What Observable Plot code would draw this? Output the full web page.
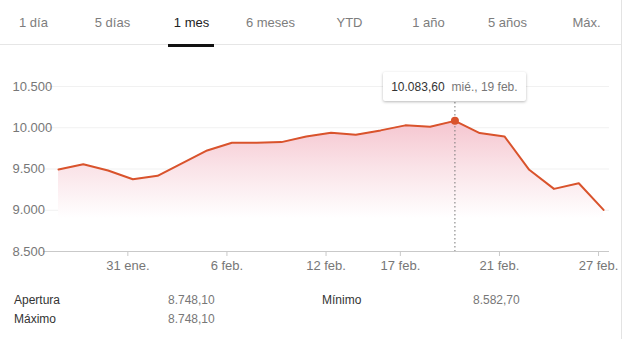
<!DOCTYPE html>
<html>
<head>
<meta charset="utf-8">
<script src="https://cdn.jsdelivr.net/npm/d3@7"></script>
<script src="https://cdn.jsdelivr.net/npm/@observablehq/plot@0.6"></script>
<style>
  html, body { margin: 0; padding: 0; background: #fff; }
  body { font-family: Arial, "Liberation Sans", sans-serif; }
  #card { position: relative; width: 626px; height: 339px; overflow: hidden; }
  #rborder { position: absolute; top: 0; left: 621px; width: 1px; height: 339px; background: #e3e3e3; }
  #tabs { position: absolute; top: 14px; left: -6px; display: grid; grid-template-columns: repeat(8, 79px); }
  #tabs div { text-align: center; font-size: 13px; line-height: 18px; color: #7d7d7d; }
  #tabs div.sel { color: #222; }
  #sep { position: absolute; top: 44px; left: 0; width: 621px; height: 1px; background: #e6e6e6; }
  #under { position: absolute; top: 44px; height: 3px; background: #111; }
  #chart { position: absolute; top: 50px; left: 0; width: 626px; height: 230px; }
  #chart svg { max-width: none !important; }
  #tip { position: absolute; top: 72px; height: 29px; background: #fff; box-shadow: 0 1px 3px rgba(0,0,0,0.28); border-radius: 2px;
         display: flex; align-items: center; justify-content: center; font-size: 12px; white-space: nowrap; }
  #tip .v { color: #333; margin-right: 7px; }
  #tip .d { color: #777; }
  #stats { position: absolute; top: 291px; left: 14px; display: grid; grid-template-columns: 154px 154px 151px auto; font-size: 12px; line-height: 19px; }
  #stats .l { color: #333; }
  #stats .n { color: #777; }
</style>
</head>
<body>
<div id="card">
  <div id="tabs"></div>
  <div id="sep"></div>
  <div id="under"></div>
  <div id="chart"></div>
  <div id="stats"></div>
  <div id="rborder"></div>
</div>
<script>
// ---- data ----
const tabs = ["1 día", "5 días", "1 mes", "6 meses", "YTD", "1 año", "5 años", "Máx."];
const selectedTab = "1 mes";
const days = ["2020-01-28","2020-01-29","2020-01-30","2020-01-31","2020-02-03","2020-02-04","2020-02-05","2020-02-06",
              "2020-02-07","2020-02-10","2020-02-11","2020-02-12","2020-02-13","2020-02-14","2020-02-17","2020-02-18",
              "2020-02-19","2020-02-20","2020-02-21","2020-02-24","2020-02-25","2020-02-26","2020-02-27"];
const closes = [9494, 9558, 9482, 9376, 9417, 9571, 9725, 9819, 9819, 9826, 9895, 9940, 9916, 9968, 10029, 10013,
                10083.6, 9935, 9895, 9490, 9259, 9327, 9004];
const tickDays = ["2020-01-31","2020-02-06","2020-02-12","2020-02-17","2020-02-21","2020-02-27"];
const tickLabels = ["31 ene.","6 feb.","12 feb.","17 feb.","21 feb.","27 feb."];
const yTicks = [8500, 9000, 9500, 10000, 10500];
const tipDay = "2020-02-19";
const tipDateLabel = "mié., 19 feb.";
const statLabels = ["Apertura", "Mínimo", "Máximo"];
const statValues = [8748.10, 8582.70, 8748.10];

// ---- helpers ----
const loc = d3.formatLocale({decimal: ",", thousands: ".", grouping: [3], currency: ["", "€"]});
const fInt = loc.format(",.0f");
const fDec = loc.format(",.2f");

const data = days.map((d, i) => ({i, day: d, v: closes[i]}));
const tickIdx = tickDays.map(d => days.indexOf(d));
const labelOf = new Map(tickIdx.map((k, j) => [k, tickLabels[j]]));
const peak = data[days.indexOf(tipDay)];
const LINE = "#d9532c";

// ---- tabs ----
const tabsEl = document.getElementById("tabs");
tabs.forEach(t => {
  const d = document.createElement("div");
  d.textContent = t;
  if (t === selectedTab) d.className = "sel";
  tabsEl.appendChild(d);
});

// ---- chart ----
const plot = Plot.plot({
  width: 626, height: 230,
  marginLeft: 43, marginRight: 17, marginTop: 36, marginBottom: 29,
  style: {fontFamily: "Arial, 'Liberation Sans', sans-serif", fontSize: "13px", background: "transparent"},
  x: {domain: [-0.606, 22.24]},
  y: {domain: [8500, 10500], axis: null},
  marks: [
    Plot.ruleY(yTicks.filter(d => d > 8500), {stroke: "#f1f1f1", insetLeft: 2}),
    Plot.areaY(data, {x: "i", y1: 8500, y2: "v", fill: "url(#fadeGrad)"}),
    Plot.ruleX([peak], {x: "i", stroke: "#777", strokeDasharray: "1.5,2.5"}),
    Plot.ruleY([8500], {stroke: "#c9c9c9", strokeWidth: 1.2}),
    Plot.axisX({ticks: tickIdx, tickFormat: d => labelOf.get(d), tickSize: 5, tickPadding: 4,
                stroke: "#c9c9c9", fill: "#777", fontSize: 13, dx: -5, label: null}),
    Plot.text(yTicks, {y: d => d, frameAnchor: "left", textAnchor: "start", dx: -31,
                       text: d => fInt(d), fill: "#777", fontSize: 13}),
    Plot.lineY(data, {x: "i", y: "v", stroke: LINE, strokeWidth: 2}),
    Plot.dot([peak], {x: "i", y: "v", r: 4, fill: LINE, stroke: "none"})
  ]
});

const ns = "http://www.w3.org/2000/svg";
const defs = document.createElementNS(ns, "defs");
defs.innerHTML = `<linearGradient id="fadeGrad" x1="0" y1="0" x2="0" y2="1">
  <stop offset="0" stop-color="#f5c5cf"/>
  <stop offset="0.35" stop-color="#fae2e7"/>
  <stop offset="0.75" stop-color="#ffffff"/>
  <stop offset="1" stop-color="#ffffff"/>
</linearGradient>`;
plot.insertBefore(defs, plot.firstChild);
plot.style.maxWidth = "none";
document.getElementById("chart").appendChild(plot);

// tooltip and tab underline placed via the x scale / layout
const xs = plot.scale("x");
const px = xs.apply(peak.i);
const tip = document.createElement("div");
tip.id = "tip";
tip.innerHTML = `<span class="v">${fDec(peak.v)}</span><span class="d">${tipDateLabel}</span>`;
tip.style.width = "143px";
tip.style.left = (px - 71.5) + "px";
document.getElementById("card").appendChild(tip);

const selEl = tabsEl.querySelector(".sel");
const r = selEl.getBoundingClientRect();
const under = document.getElementById("under");
under.style.left = (r.left + r.width / 2 - 24) + "px";
under.style.width = "46px";

// ---- stats ----
const statsEl = document.getElementById("stats");
const cells = [
  ["l", statLabels[0]], ["n", fDec(statValues[0])], ["l", statLabels[1]], ["n", fDec(statValues[1])],
  ["l", statLabels[2]], ["n", fDec(statValues[2])], ["", ""], ["", ""]
];
cells.forEach(([c, t]) => {
  const d = document.createElement("div");
  d.className = c; d.textContent = t;
  statsEl.appendChild(d);
});
</script>
</body>
</html>
